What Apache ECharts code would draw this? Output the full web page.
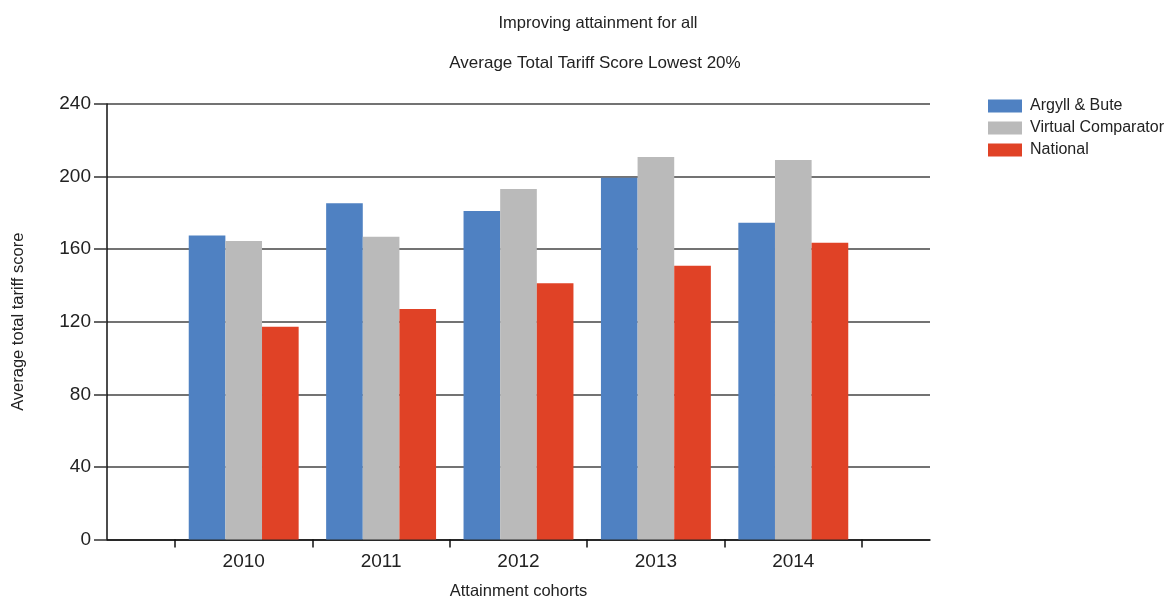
<!DOCTYPE html>
<html>
<head>
<meta charset="utf-8">
<script src="https://cdn.jsdelivr.net/npm/echarts@6/dist/echarts.min.js"></script>
<style>
  html, body { margin: 0; padding: 0; background: #fff; }
  #chart { width: 1172px; height: 597px; }
</style>
</head>
<body>
<div id="chart"></div>
<script>
// Attainment cohorts and average total tariff scores (lowest 20%)
const cohorts = ['2010', '2011', '2012', '2013', '2014'];
const argyllBute = [167.6, 185.3, 181.0, 199.4, 174.6];
const virtualComparator = [164.5, 166.9, 193.2, 210.8, 209.1];
const national = [117.3, 127.0, 141.2, 150.9, 163.6];
const yTicks = { min: 0, max: 240, interval: 40 };

const FONT = '"Liberation Sans", Arial, sans-serif';
const TEXT = '#222';
const LINE = '#444';

const chart = echarts.init(document.getElementById('chart'), null, { renderer: 'canvas' });

const barSeries = (name, data, color) => ({
  name: name,
  type: 'bar',
  xAxisIndex: 1,
  yAxisIndex: 1,
  data: data,
  barGap: '0%',
  barCategoryGap: '20%',
  itemStyle: { color: color },
  emphasis: { disabled: true }
});

chart.setOption({
  animation: false,
  backgroundColor: '#fff',
  textStyle: { fontFamily: FONT, color: TEXT },
  title: [
    { text: 'Improving attainment for all', left: 593, top: 10, textAlign: 'center',
      textStyle: { fontFamily: FONT, fontSize: 16.5, fontWeight: 'normal', color: TEXT } },
    { text: 'Average Total Tariff Score Lowest 20%', left: 590, top: 50, textAlign: 'center',
      textStyle: { fontFamily: FONT, fontSize: 17, fontWeight: 'normal', color: TEXT } }
  ],
  legend: {
    orient: 'vertical',
    left: 983,
    top: 93,
    itemWidth: 34,
    itemHeight: 13,
    itemGap: 6,
    icon: 'rect',
    selectedMode: false,
    textStyle: { fontFamily: FONT, fontSize: 16, color: TEXT, padding: [0, 0, 0, 3] },
    data: ['Argyll & Bute', 'Virtual Comparator', 'National']
  },
  grid: [
    // outer frame: value axis and horizontal rules
    { left: 107, right: 242, top: 104, bottom: 57.5, containLabel: false, outerBoundsMode: 'none' },
    // inner band holding the cohorts
    { left: 175, right: 310, top: 104, bottom: 57.5, containLabel: false, outerBoundsMode: 'none' }
  ],
  xAxis: [
    {
      gridIndex: 0, type: 'value', min: 0, max: 1,
      axisLine: { show: true, onZero: false, lineStyle: { color: '#111', width: 1.5 } },
      axisTick: { show: false }, axisLabel: { show: false }, splitLine: { show: false },
      name: 'Attainment cohorts', nameLocation: 'middle', nameGap: 43,
      nameTextStyle: { fontFamily: FONT, fontSize: 16.5, color: TEXT }
    },
    {
      gridIndex: 1, type: 'category', data: cohorts, boundaryGap: true,
      axisLine: { show: false },
      axisTick: { show: true, inside: false, length: 8, alignWithLabel: false,
                  lineStyle: { color: '#111', width: 1.5 } },
      axisLabel: { fontFamily: FONT, fontSize: 19, color: TEXT, margin: 13 },
      splitLine: { show: false }
    }
  ],
  yAxis: [
    {
      gridIndex: 0, type: 'value', min: yTicks.min, max: yTicks.max, interval: yTicks.interval,
      axisLine: { show: true, lineStyle: { color: '#111', width: 1.5 } },
      axisTick: { show: true, length: 13, lineStyle: { color: '#333', width: 1.5 } },
      axisLabel: { fontFamily: FONT, fontSize: 19, color: TEXT, margin: 16 },
      splitLine: { show: true, lineStyle: { color: LINE, width: 1.5 } },
      name: 'Average total tariff score', nameLocation: 'middle', nameGap: 80, nameRotate: 90,
      nameTextStyle: { fontFamily: FONT, fontSize: 16.5, color: TEXT }
    },
    {
      gridIndex: 1, type: 'value', min: yTicks.min, max: yTicks.max, interval: yTicks.interval,
      show: false
    }
  ],
  series: [
    barSeries('Argyll & Bute', argyllBute, '#4F81C2'),
    barSeries('Virtual Comparator', virtualComparator, '#BABABA'),
    barSeries('National', national, '#E04226')
  ]
});
</script>
</body>
</html>
